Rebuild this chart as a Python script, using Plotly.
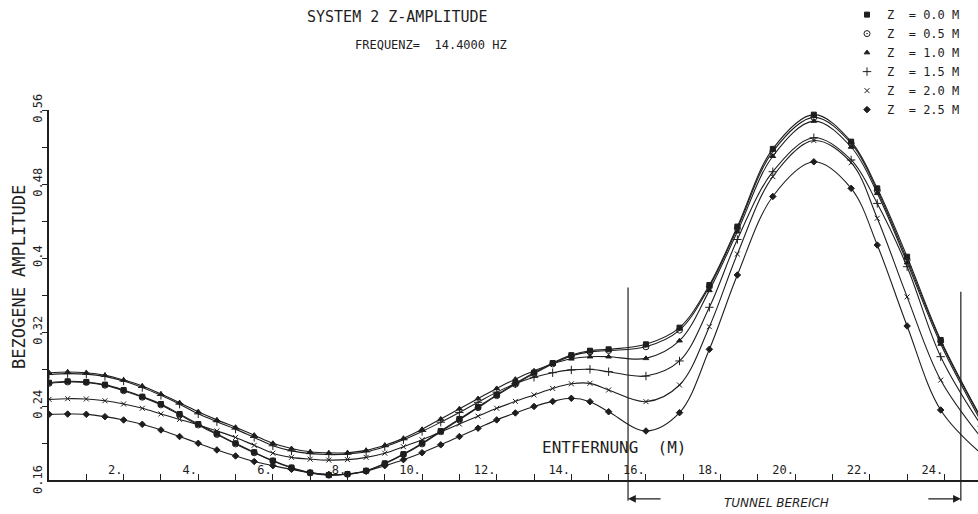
import plotly.graph_objects as go

# ---------------- data ----------------
X_POS = [0, 0.5, 1, 1.5, 2, 2.5, 3, 3.5, 4, 4.5, 5, 5.5, 6, 6.5, 7, 7.5, 8, 8.5, 9, 9.5,
         10, 10.5, 11, 11.5, 12, 12.5, 13, 13.5, 14, 14.5, 15,
         16, 16.9, 17.7, 18.45, 19.4, 20.5, 21.5, 22.2, 23.0, 23.9, 25.0]

Z_00 = [0.2652, 0.2667, 0.2660, 0.2631, 0.2573, 0.2501, 0.2422, 0.2314, 0.2205, 0.2100,
        0.1997, 0.1900, 0.1810, 0.1735, 0.1680, 0.1655, 0.1665, 0.1700, 0.1780, 0.1880,
        0.1997, 0.2130, 0.2260, 0.2390, 0.2520, 0.2645, 0.2760, 0.2865, 0.2950, 0.2998, 0.3013,
        0.3067, 0.3247, 0.3708, 0.4340, 0.5180, 0.5550, 0.5258, 0.4753, 0.4014, 0.3114, 0.2260]
Z_05 = [0.2645, 0.2660, 0.2655, 0.2625, 0.2565, 0.2495, 0.2412, 0.2305, 0.2195, 0.2092,
        0.1990, 0.1895, 0.1805, 0.1730, 0.1676, 0.1652, 0.1662, 0.1698, 0.1775, 0.1875,
        0.1990, 0.2122, 0.2252, 0.2382, 0.2512, 0.2635, 0.2750, 0.2855, 0.2940, 0.2985, 0.3000,
        0.3040, 0.3220, 0.3690, 0.4320, 0.5150, 0.5520, 0.5240, 0.4730, 0.3980, 0.3100, 0.2250]
Z_10 = [0.2760, 0.2768, 0.2760, 0.2732, 0.2681, 0.2616, 0.2529, 0.2436, 0.2338, 0.2250,
        0.2170, 0.2085, 0.1997, 0.1940, 0.1905, 0.1893, 0.1895, 0.1920, 0.1975, 0.2050,
        0.2148, 0.2260, 0.2370, 0.2480, 0.2590, 0.2690, 0.2780, 0.2855, 0.2910, 0.2933, 0.2933,
        0.2915, 0.3106, 0.3650, 0.4284, 0.5100, 0.5480, 0.5200, 0.4700, 0.3950, 0.3070, 0.2220]
Z_15 = [0.2740, 0.2750, 0.2745, 0.2720, 0.2670, 0.2600, 0.2515, 0.2420, 0.2315, 0.2230,
        0.2150, 0.2060, 0.1970, 0.1915, 0.1885, 0.1875, 0.1880, 0.1905, 0.1960, 0.2035,
        0.2125, 0.2225, 0.2330, 0.2440, 0.2550, 0.2640, 0.2710, 0.2760, 0.2790, 0.2797, 0.2771,
        0.2724, 0.2887, 0.3467, 0.4200, 0.4933, 0.5300, 0.5060, 0.4590, 0.3906, 0.2933, 0.2180]
Z_20 = [0.2472, 0.2479, 0.2476, 0.2457, 0.2422, 0.2375, 0.2314, 0.2255, 0.2195, 0.2130,
        0.2060, 0.1975, 0.1890, 0.1845, 0.1825, 0.1815, 0.1820, 0.1845, 0.1890, 0.1960,
        0.2035, 0.2120, 0.2205, 0.2290, 0.2375, 0.2450, 0.2520, 0.2590, 0.2640, 0.2645, 0.2573,
        0.2447, 0.2627, 0.3257, 0.4043, 0.4880, 0.5270, 0.5030, 0.4430, 0.3580, 0.2680, 0.2050]
Z_25 = [0.2310, 0.2313, 0.2310, 0.2285, 0.2249, 0.2202, 0.2141, 0.2070, 0.1997, 0.1925,
        0.1860, 0.1800, 0.1755, 0.1715, 0.1680, 0.1660, 0.1662, 0.1695, 0.1755, 0.1820,
        0.1895, 0.1980, 0.2070, 0.2160, 0.2250, 0.2325, 0.2395, 0.2450, 0.2483, 0.2447, 0.2338,
        0.2130, 0.2328, 0.3013, 0.3816, 0.4665, 0.5040, 0.4753, 0.4140, 0.3265, 0.2357, 0.1880]

SERIES_NAMES = ["Z  = 0.0 M", "Z  = 0.5 M", "Z  = 1.0 M", "Z  = 1.5 M", "Z  = 2.0 M", "Z  = 2.5 M"]
SERIES_VALUES = [Z_00, Z_05, Z_10, Z_15, Z_20, Z_25]
SYMBOLS = ["square", "circle-open-dot", "triangle-up", "cross-thin-open", "x-thin-open", "diamond"]
SIZES = [5, 6, 5, 6, 5, 5]

X_TICKVALS = [2, 4, 6, 8, 10, 12, 14, 16, 18, 20, 22, 24]
X_TICKTEXT = ["2.", "4.", "6.", "8.", "10.", "12.", "14.", "16.", "18.", "20.", "22.", "24."]
Y_TICKVALS = [0.24, 0.32, 0.40, 0.48, 0.56]
Y_TICKTEXT = ["0.24", "0.32", "0.4", "0.48", "0.56"]
Y_BOTTOM = 0.16
Y_BOTTOM_TEXT = "0.16"

TUNNEL_START = 15.52
TUNNEL_END = 24.44

INK = "#1e1e1e"
FONT = "DejaVu Sans Mono"

fig = go.Figure()

for name, vals, sym, sz in zip(SERIES_NAMES, SERIES_VALUES, SYMBOLS, SIZES):
    fig.add_trace(go.Scatter(
        x=X_POS, y=vals, mode="lines+markers", showlegend=False, hoverinfo="skip",
        line=dict(color=INK, width=1.1, shape="spline", smoothing=1.0),
        marker=dict(symbol=sym, size=sz, color=INK, line=dict(color=INK, width=1)),
    ))
    # legend entry (marker only)
    fig.add_trace(go.Scatter(
        x=[None], y=[None], mode="markers", name=name, showlegend=True,
        marker=dict(symbol=sym, size=sz, color=INK, line=dict(color=INK, width=1)),
    ))

# tunnel boundary lines
fig.add_shape(type="line", xref="x", yref="paper", x0=TUNNEL_START, x1=TUNNEL_START,
              y0=-0.056, y1=0.52, line=dict(color=INK, width=1.2))
fig.add_shape(type="line", xref="x", yref="paper", x0=TUNNEL_END, x1=TUNNEL_END,
              y0=-0.056, y1=0.509, line=dict(color=INK, width=1.2))

annotations = [
    dict(x=TUNNEL_START, y=-0.051, xref="x", yref="paper", ax=34, ay=0, text="",
         showarrow=True, arrowhead=2, arrowsize=1.2, arrowwidth=1.3, arrowcolor=INK),
    dict(x=TUNNEL_END, y=-0.051, xref="x", yref="paper", ax=-34, ay=0, text="",
         showarrow=True, arrowhead=2, arrowsize=1.2, arrowwidth=1.3, arrowcolor=INK),
    dict(x=0.7826, y=-0.062, xref="paper", yref="paper", text="<i>TUNNEL BEREICH</i>",
         xanchor="center", yanchor="middle",
         showarrow=False, font=dict(family="DejaVu Sans", size=12, color=INK)),
    dict(x=0.609, y=0.0865, xref="paper", yref="paper", text="ENTFERNUNG  (M)",
         xanchor="center", yanchor="middle",
         showarrow=False, font=dict(family=FONT, size=16, color=INK)),
    dict(x=-0.0323, y=0.5486, xref="paper", yref="paper", text="BEZOGENE AMPLITUDE",
         xanchor="center", yanchor="middle",
         textangle=-90, showarrow=False, font=dict(family=FONT, size=17, color=INK)),
    dict(x=0.4107, y=1.1757, xref="paper", yref="paper", text="FREQUENZ=  14.4000 HZ",
         xanchor="center", yanchor="middle",
         showarrow=False, font=dict(family=FONT, size=12, color=INK)),
    dict(x=0.3746, y=1.2514, xref="paper", yref="paper", text="SYSTEM 2 Z-AMPLITUDE",
         xanchor="center", yanchor="middle",
         showarrow=False, font=dict(family=FONT, size=15, color=INK)),
    dict(x=-0.0118, y=Y_BOTTOM, xref="paper", yref="y", text=Y_BOTTOM_TEXT,
         xanchor="center", yanchor="middle", textangle=-90,
         showarrow=False, font=dict(family=FONT, size=12, color=INK)),
]

fig.update_layout(
    width=978, height=514,
    margin=dict(l=49, r=0, t=110, b=34, autoexpand=False),
    paper_bgcolor="white", plot_bgcolor="white",
    font=dict(family=FONT, color=INK),
    annotations=annotations,
    hovermode=False,
    legend=dict(x=0.859, y=1.297, xanchor="left", yanchor="top",
                font=dict(family=FONT, size=12, color=INK),
                bgcolor="rgba(0,0,0,0)", itemwidth=30, tracegroupgap=0),
    xaxis=dict(range=[0, 24.9], showgrid=False, zeroline=False, automargin=False,
               showline=True, linecolor=INK, linewidth=1.5,
               ticks="inside", ticklen=6, tickcolor=INK, tickwidth=1,
               tickvals=X_TICKVALS, ticktext=X_TICKTEXT,
               ticklabelposition="inside left",
               tickfont=dict(family=FONT, size=12, color=INK),
               minor=dict(dtick=1, tick0=0, ticks="inside", ticklen=6, tickcolor=INK, tickwidth=1)),
    yaxis=dict(range=[0.16, 0.56], showgrid=False, zeroline=False, automargin=False,
               showline=True, linecolor=INK, linewidth=1.5,
               ticks="outside", ticklen=5, tickcolor=INK, tickwidth=1,
               tickvals=Y_TICKVALS, ticktext=Y_TICKTEXT, tickangle=-90,
               ticklabelstandoff=-5,
               tickfont=dict(family=FONT, size=12, color=INK),
               minor=dict(dtick=0.04, tick0=0.16, ticks="outside", ticklen=5, tickcolor=INK, tickwidth=1)),
)

fig.write_html("out.html", config={"displayModeBar": False},
               post_script="document.body.style.margin='0';")
